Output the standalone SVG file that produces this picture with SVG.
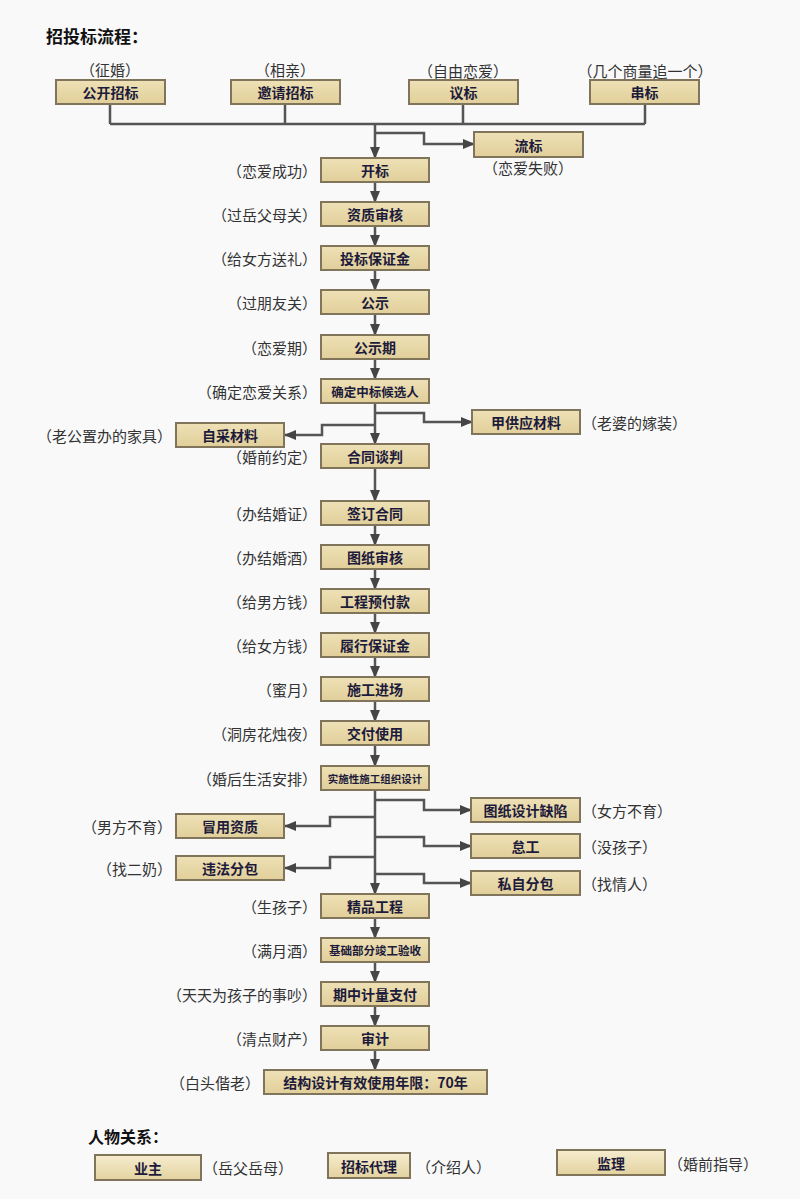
<svg xmlns="http://www.w3.org/2000/svg" width="800" height="1199" viewBox="0 0 800 1199">
<defs>
<linearGradient id="g" x1="0" y1="0" x2="0" y2="1">
<stop offset="0" stop-color="#eee1b6"/>
<stop offset="1" stop-color="#e1cf9a"/>
</linearGradient>
<linearGradient id="g2" x1="0" y1="0" x2="0" y2="1">
<stop offset="0" stop-color="#f6edcf"/>
<stop offset="1" stop-color="#e3d29f"/>
</linearGradient>
<marker id="ar" markerUnits="userSpaceOnUse" markerWidth="12" markerHeight="10" refX="11" refY="5" orient="auto">
<path d="M0,0 L12,5 L0,10 z" fill="#454545"/>
</marker>
<style>
.box{fill:url(#g);stroke:#80755a;stroke-width:2}
.box2{fill:url(#g2);stroke:#80755a;stroke-width:2}
.bt{font-family:"Noto Sans CJK SC",sans-serif;font-weight:700;font-size:14px;fill:#1d1b3b;text-anchor:middle;dominant-baseline:central}
.lb{font-family:"Noto Sans CJK SC",sans-serif;font-size:15px;fill:#333;dominant-baseline:central}
.r{text-anchor:end}
.m{text-anchor:middle}
.ti{font-family:"Noto Sans CJK SC",sans-serif;font-weight:700;font-size:17px;fill:#111}
.ln{fill:none;stroke:#555;stroke-width:2.5}
.a{marker-end:url(#ar)}
</style>
</defs>
<rect width="800" height="1199" fill="#f9f9fa"/>
<text class="ti" x="46" y="43">招投标流程：</text>
<text class="ti" x="88" y="1143" style="font-size:16px">人物关系：</text>

<g id="connectors">
<path class="ln" d="M110,104 V124 M285,104 V124 M463,104 V124 M645,104 V124 M110,124 H645"/>
<path class="ln a" d="M375,124 V158"/>
<path class="ln a" d="M375,133 H424 V144 H474"/>
<path class="ln a" d="M375,182 V202"/>
<path class="ln a" d="M375,226 V246"/>
<path class="ln a" d="M375,270 V290"/>
<path class="ln a" d="M375,314 V335"/>
<path class="ln a" d="M375,359 V379"/>
<path class="ln a" d="M375,403 V444"/>
<path class="ln a" d="M375,413 H424 V422 H472"/>
<path class="ln a" d="M375,425 H322 V435 H285"/>
<path class="ln a" d="M375,468 V501"/>
<path class="ln a" d="M375,525 V545"/>
<path class="ln a" d="M375,569 V589"/>
<path class="ln a" d="M375,613 V633"/>
<path class="ln a" d="M375,657 V677"/>
<path class="ln a" d="M375,701 V721"/>
<path class="ln a" d="M375,745 V766"/>
<path class="ln a" d="M375,790 V894"/>
<path class="ln a" d="M375,800 H424 V810 H471"/>
<path class="ln a" d="M375,817 H330 V826 H285"/>
<path class="ln a" d="M375,837 H424 V846 H471"/>
<path class="ln a" d="M375,857 H330 V868 H285"/>
<path class="ln a" d="M375,874 H424 V883 H471"/>
<path class="ln a" d="M375,918 V938"/>
<path class="ln a" d="M375,962 V982"/>
<path class="ln a" d="M375,1006 V1026"/>
<path class="ln a" d="M375,1050 V1070"/>
</g>

<g id="n-gongkai"><text class="lb m" x="110" y="69">（征婚）</text><rect class="box" x="56" y="80" width="109" height="24"/><text class="bt" x="110.5" y="92">公开招标</text></g>
<g id="n-yaoqing"><text class="lb m" x="285" y="69">（相亲）</text><rect class="box" x="231" y="80" width="109" height="24"/><text class="bt" x="285.5" y="92">邀请招标</text></g>
<g id="n-yibiao"><text class="lb m" x="463" y="70">（自由恋爱）</text><rect class="box" x="409" y="80" width="109" height="24"/><text class="bt" x="463.5" y="92">议标</text></g>
<g id="n-chuanbiao"><text class="lb m" x="645" y="70">（几个商量追一个）</text><rect class="box" x="590" y="80" width="109" height="24"/><text class="bt" x="644.5" y="92">串标</text></g>
<g id="n-liubiao"><rect class="box" x="474" y="132" width="109" height="25"/><text class="bt" x="528.5" y="144.5">流标</text><text class="lb m" x="528" y="167">（恋爱失败）</text></g>

<g id="n-kaibiao"><text class="lb r" x="317" y="170">（恋爱成功）</text><rect class="box" x="321" y="158" width="108" height="24"/><text class="bt" x="375" y="170">开标</text></g>
<g id="n-zizhi"><text class="lb r" x="317" y="214">（过岳父母关）</text><rect class="box" x="321" y="202" width="108" height="24"/><text class="bt" x="375" y="214">资质审核</text></g>
<g id="n-toubiao"><text class="lb r" x="317" y="258">（给女方送礼）</text><rect class="box" x="321" y="246" width="108" height="24"/><text class="bt" x="375" y="258">投标保证金</text></g>
<g id="n-gongshi"><text class="lb r" x="317" y="302">（过朋友关）</text><rect class="box" x="321" y="290" width="108" height="24"/><text class="bt" x="375" y="302">公示</text></g>
<g id="n-gongshiqi"><text class="lb r" x="317" y="347">（恋爱期）</text><rect class="box" x="321" y="335" width="108" height="24"/><text class="bt" x="375" y="347">公示期</text></g>
<g id="n-queding"><text class="lb r" x="317" y="391">（确定恋爱关系）</text><rect class="box" x="321" y="379" width="108" height="24"/><text class="bt" x="375" y="391" style="font-size:12.5px">确定中标候选人</text></g>
<g id="n-jiagong"><rect class="box" x="472" y="410" width="108" height="24"/><text class="bt" x="526" y="422">甲供应材料</text><text class="lb" x="582" y="422">（老婆的嫁装）</text></g>
<g id="n-zicai"><text class="lb r" x="172" y="435">（老公置办的家具）</text><rect class="box" x="176" y="423" width="108" height="24"/><text class="bt" x="230" y="435">自采材料</text></g>
<g id="n-hetongtanpan"><text class="lb r" x="317" y="456">（婚前约定）</text><rect class="box" x="321" y="444" width="108" height="24"/><text class="bt" x="375" y="456">合同谈判</text></g>
<g id="n-qianding"><text class="lb r" x="317" y="513">（办结婚证）</text><rect class="box" x="321" y="501" width="108" height="24"/><text class="bt" x="375" y="513">签订合同</text></g>
<g id="n-tuzhi"><text class="lb r" x="317" y="557">（办结婚酒）</text><rect class="box" x="321" y="545" width="108" height="24"/><text class="bt" x="375" y="557">图纸审核</text></g>
<g id="n-yufu"><text class="lb r" x="317" y="601">（给男方钱）</text><rect class="box" x="321" y="589" width="108" height="24"/><text class="bt" x="375" y="601">工程预付款</text></g>
<g id="n-lvxing"><text class="lb r" x="317" y="645">（给女方钱）</text><rect class="box" x="321" y="633" width="108" height="24"/><text class="bt" x="375" y="645">履行保证金</text></g>
<g id="n-jinchang"><text class="lb r" x="317" y="689">（蜜月）</text><rect class="box" x="321" y="677" width="108" height="24"/><text class="bt" x="375" y="689">施工进场</text></g>
<g id="n-jiaofu"><text class="lb r" x="317" y="733">（洞房花烛夜）</text><rect class="box" x="321" y="721" width="108" height="24"/><text class="bt" x="375" y="733">交付使用</text></g>
<g id="n-shishi"><text class="lb r" x="317" y="778">（婚后生活安排）</text><rect class="box" x="321" y="766" width="108" height="24"/><text class="bt" x="375" y="778" style="font-size:10.5px">实施性施工组织设计</text></g>
<g id="n-quexian"><rect class="box" x="471" y="798" width="109" height="24"/><text class="bt" x="525.5" y="810">图纸设计缺陷</text><text class="lb" x="582" y="810">（女方不育）</text></g>
<g id="n-maoyong"><text class="lb r" x="172" y="826">（男方不育）</text><rect class="box" x="176" y="814" width="108" height="24"/><text class="bt" x="230" y="826">冒用资质</text></g>
<g id="n-daigong"><rect class="box" x="471" y="834" width="109" height="24"/><text class="bt" x="525.5" y="846">怠工</text><text class="lb" x="582" y="846">（没孩子）</text></g>
<g id="n-weifa"><text class="lb r" x="172" y="868">（找二奶）</text><rect class="box" x="176" y="856" width="108" height="24"/><text class="bt" x="230" y="868">违法分包</text></g>
<g id="n-sizi"><rect class="box" x="471" y="871" width="109" height="24"/><text class="bt" x="525.5" y="883">私自分包</text><text class="lb" x="582" y="883">（找情人）</text></g>
<g id="n-jingpin"><text class="lb r" x="317" y="906">（生孩子）</text><rect class="box" x="321" y="894" width="108" height="24"/><text class="bt" x="375" y="906">精品工程</text></g>
<g id="n-jichu"><text class="lb r" x="317" y="950">（满月酒）</text><rect class="box" x="321" y="938" width="108" height="24"/><text class="bt" x="375" y="950" style="font-size:11.5px">基础部分竣工验收</text></g>
<g id="n-qizhong"><text class="lb r" x="317" y="994">（天天为孩子的事吵）</text><rect class="box" x="321" y="982" width="108" height="24"/><text class="bt" x="375" y="994">期中计量支付</text></g>
<g id="n-shenji"><text class="lb r" x="317" y="1038">（清点财产）</text><rect class="box" x="321" y="1026" width="108" height="24"/><text class="bt" x="375" y="1038">审计</text></g>
<g id="n-jiegou"><text class="lb r" x="260" y="1082">（白头偕老）</text><rect class="box" x="264" y="1070" width="223" height="24"/><text class="bt" x="375.5" y="1082">结构设计有效使用年限：70年</text></g>

<g id="n-yezhu"><rect class="box2" x="95" y="1155" width="106" height="25"/><text class="bt" x="148" y="1167.5">业主</text><text class="lb" x="203" y="1167">（岳父岳母）</text></g>
<g id="n-zhaobiao"><rect class="box2" x="328" y="1153" width="82" height="25"/><text class="bt" x="369" y="1165.5">招标代理</text><text class="lb" x="416" y="1166">（介绍人）</text></g>
<g id="n-jianli"><rect class="box2" x="557" y="1150" width="108" height="25"/><text class="bt" x="611" y="1162.5">监理</text><text class="lb" x="668" y="1163">（婚前指导）</text></g>
</svg>
